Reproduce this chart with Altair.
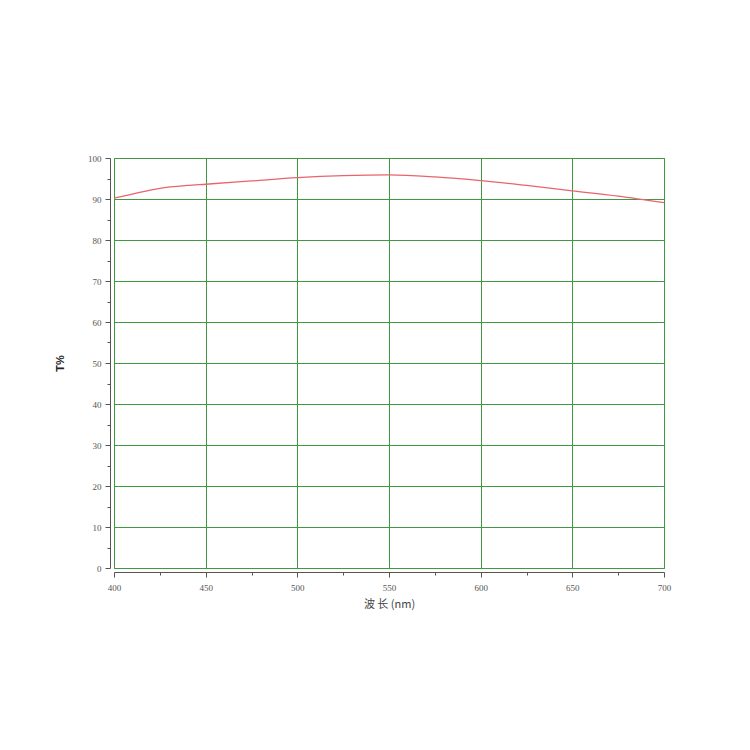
import altair as alt
import pandas as pd

wavelength = [400, 410, 425, 440, 450, 475, 500, 525, 550, 575, 600, 625, 650, 675, 700]
transmittance = [90.2, 91.2, 92.6, 93.3, 93.6, 94.4, 95.2, 95.7, 95.9, 95.4, 94.5, 93.3, 92.0, 90.7, 89.1]

x_major = [400, 450, 500, 550, 600, 650, 700]
x_minor = [425, 475, 525, 575, 625, 675]
y_major = [0, 10, 20, 30, 40, 50, 60, 70, 80, 90, 100]
y_minor = [5, 15, 25, 35, 45, 55, 65, 75, 85, 95]

df = pd.DataFrame({"wl": wavelength, "t": transmittance})

GRID = "#3f9a3f"
AXC = "#555555"
LBL = dict(labelFont="Liberation Serif", labelFontSize=9, labelColor="#555555",
           labelFlush=False, labelOverlap=False)

xs = alt.Scale(domain=[400, 700], nice=False, zero=False)
ys = alt.Scale(domain=[0, 100], nice=False)

main = alt.Chart(df).mark_line(color="#e8646e", strokeWidth=1.3, interpolate="monotone").encode(
    x=alt.X("wl:Q", scale=xs,
            axis=alt.Axis(values=x_major, title="波 长 (nm)", orient="bottom",
                          grid=True, gridColor=GRID, gridOpacity=1, gridWidth=1,
                          domainColor=AXC, tickColor=AXC, tickSize=5, offset=4,
                          labelPadding=6, titleFont="Noto Sans CJK SC", titleFontSize=11,
                          titleFontWeight="normal", titleColor="#444444", titlePadding=6,
                          **LBL)),
    y=alt.Y("t:Q", scale=ys,
            axis=alt.Axis(values=y_major, title="T%", orient="left",
                          grid=True, gridColor=GRID, gridOpacity=1, gridWidth=1,
                          domainColor=AXC, tickColor=AXC, tickSize=5, offset=4,
                          labelPadding=4, titleFont="Liberation Sans", titleFontSize=11,
                          titleFontWeight="bold", titleColor="#222222", titlePadding=22,
                          **LBL)),
)

minor = alt.Chart(df).mark_line(opacity=0).encode(
    x=alt.X("wl:Q", scale=xs,
            axis=alt.Axis(values=x_minor, title=None, labels=False, grid=False,
                          domain=False, tickColor=AXC, tickSize=3, offset=4, orient="bottom")),
    y=alt.Y("t:Q", scale=ys,
            axis=alt.Axis(values=y_minor, title=None, labels=False, grid=False,
                          domain=False, tickColor=AXC, tickSize=3, offset=4, orient="left")),
)

chart = alt.layer(minor, main).resolve_axis(x="independent", y="independent").properties(
    width=550, height=410,
    autosize=alt.AutoSizeParams(type="none"),
    padding={"left": 106, "top": 150, "right": 70, "bottom": 160},
    background="white",
).configure_view(stroke=GRID, strokeWidth=1)

chart.save("out.html", embed_options={"renderer": "svg", "actions": False})
